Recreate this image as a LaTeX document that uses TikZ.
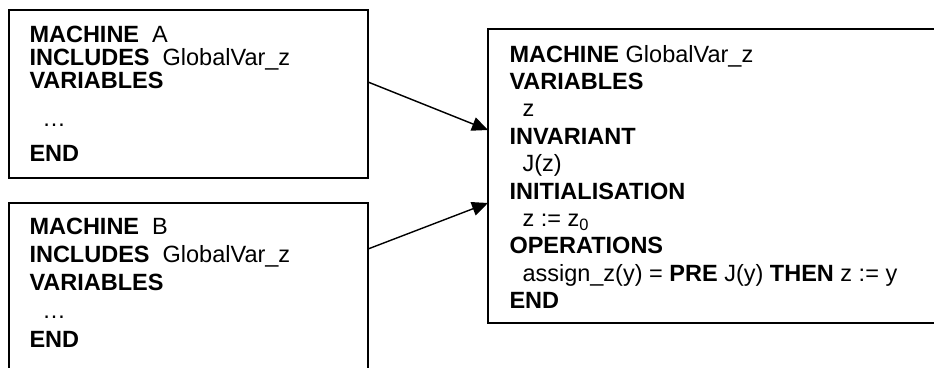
\documentclass[tikz,border=0pt]{standalone}
\usepackage{fontspec}
\setmainfont{Liberation Sans}
\usetikzlibrary{arrows.meta}
\usetikzlibrary{positioning}
\tikzset{mbox/.style = {draw, line width = 1.7pt, inner sep = 0, outer sep = 0, anchor = north west}}
\tikzset{mtext/.style = {align = left, inner sep = 0, anchor = north west}}
\tikzset{incl/.style = {line width = 1.4pt, -{Triangle[length = 16pt, width = 14pt]}}}
\newcommand{\ind}{\hspace*{13pt}}

\begin{document}
\begin{tikzpicture}[x = 1pt, y = 1pt]
      \useasboundingbox (0, 0) rectangle (934, -367);
      \clip (0, 0) rectangle (934, -367);
      \node [mbox, minimum width = 359, minimum height = 168] (boxA) at (9, -10) {};
      \node [mbox, minimum width = 359, minimum height = 200] (boxB) at (9, -203) {};
      \node [mbox, minimum width = 480, minimum height = 294] (boxG) at (488, -29) {};
      \node [mtext, font = \fontsize{23.5}{23.3}\selectfont] (textA) at (29.3, -25.4)
        {\textbf{MACHINE}\ \ A\\ \textbf{INCLUDES}\ \ GlobalVar\_z\\ \textbf{VARIABLES}\\[14.4pt]
         \ind…\\[11.7pt] \textbf{END}};
      \node [mtext, font = \fontsize{23.5}{28.3}\selectfont] (textB) at (29.3, -217.4)
        {\textbf{MACHINE}\ \ B\\ \textbf{INCLUDES}\ \ GlobalVar\_z\\ \textbf{VARIABLES}\\
         \ind…\\ \textbf{END}};
      \node [mtext, font = \fontsize{23.5}{27.4}\selectfont] (textG) at (509.3, -44.8)
        {\textbf{MACHINE} GlobalVar\_z\\ \textbf{VARIABLES}\\ \ind z\\ \textbf{INVARIANT}\\
         \ind J(z)\\ \textbf{INITIALISATION}\\ \ind z := z\textsubscript{0}\\ \textbf{OPERATIONS}\\
         \ind assign\_z(y) = \textbf{PRE} J(y) \textbf{THEN} z := y\\ \textbf{END}};
      \draw [incl] ([yshift = -72]boxA.north east) -- ([yshift = -101]boxG.north west);
      \draw [incl] ([yshift = -46]boxB.north east) -- ([yshift = -174]boxG.north west);
    \end{tikzpicture}
\end{document}
